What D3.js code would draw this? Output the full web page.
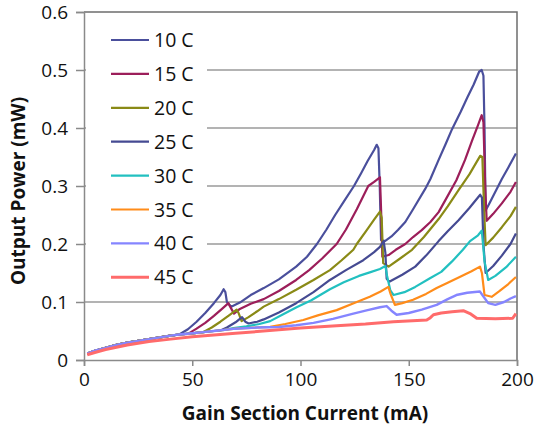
<!DOCTYPE html>
<html>
<head>
<meta charset="utf-8">
<script src="https://cdn.jsdelivr.net/npm/d3@7"></script>
<style>
  body { margin: 0; background: #fff; }
  svg { font-family: "Open Sans", sans-serif; }
</style>
</head>
<body>
<svg id="chart" width="536" height="432"></svg>
<script>
// Readings from the picture: [current mA, power mW]
const c10 = [[1.5,0.011],[5,0.016],[10,0.021],[15,0.026],[20,0.030],[25,0.033],[30,0.036],[35,0.039],[40,0.042],[44,0.044],
  [48,0.053],[52,0.066],[56,0.081],[60,0.098],[63,0.112],[64.5,0.122],[65.3,0.117],[66,0.100],[68,0.092],[72,0.099],
  [77,0.112],[83,0.124],[90,0.139],[98,0.161],[103,0.178],[107.6,0.200],[112,0.225],[116,0.250],[120,0.273],[124.7,0.300],
  [128,0.322],[131,0.343],[134,0.362],[135.2,0.371],[136,0.365],[136.6,0.300],[137.2,0.207],[139,0.205],[142,0.213],
  [145,0.224],[148.4,0.238],[152,0.260],[157.6,0.295],[160,0.312],[163.8,0.345],[167,0.372],[170,0.398],[174,0.428],
  [177,0.452],[180,0.475],[182.5,0.497],[183.7,0.500],[184.5,0.490],[185,0.400],[185.5,0.258],[187,0.268],[190,0.290],
  [193,0.312],[196,0.332],[199.5,0.356]];
const c15 = [[1.5,0.011],[5,0.016],[10,0.021],[15,0.026],[20,0.030],[25,0.033],[30,0.036],[35,0.039],[40,0.042],[44,0.044],
  [48,0.045],[52,0.054],[56,0.064],[60,0.076],[64,0.089],[66.7,0.098],[67.5,0.092],[69.3,0.080],[72,0.088],[77,0.097],
  [83,0.105],[90,0.119],[98,0.138],[104,0.155],[110,0.175],[116.7,0.200],[121,0.225],[126,0.260],[131.3,0.300],
  [134,0.307],[136.7,0.315],[137.3,0.250],[137.8,0.178],[140.7,0.181],[144,0.190],[148.4,0.200],[152,0.212],[156,0.224],
  [160,0.238],[163.8,0.255],[168,0.283],[172,0.310],[176,0.345],[179.2,0.378],[182,0.405],[183.7,0.422],[184.5,0.410],
  [185.3,0.300],[186,0.240],[189,0.252],[193,0.270],[197,0.290],[199.5,0.307]];
const c20 = [[1.5,0.011],[5,0.016],[10,0.021],[15,0.026],[20,0.030],[25,0.033],[30,0.036],[35,0.039],[40,0.042],[44,0.044],
  [50,0.046],[55,0.048],[59,0.056],[63,0.066],[67,0.077],[70.5,0.087],[71.5,0.080],[72.8,0.067],[76,0.074],[80,0.084],
  [83,0.092],[90,0.105],[98,0.121],[106,0.138],[113.6,0.155],[119,0.172],[124.4,0.190],[126,0.200],[130.6,0.224],
  [134,0.242],[136.7,0.256],[137.5,0.245],[138.2,0.167],[140.7,0.161],[146,0.175],[151.5,0.190],[157,0.212],
  [163.8,0.243],[168,0.265],[173,0.293],[178,0.320],[183,0.352],[184,0.350],[184.8,0.260],[185.5,0.198],[189,0.211],
  [193,0.229],[197,0.248],[199.5,0.264]];
const c25 = [[1.5,0.011],[5,0.016],[10,0.021],[15,0.026],[20,0.030],[25,0.033],[30,0.036],[35,0.039],[40,0.042],[44,0.044],
  [50,0.046],[55,0.048],[60,0.050],[63,0.051],[66,0.056],[70,0.065],[73,0.074],[74.5,0.066],[76,0.063],[80,0.066],
  [83,0.070],[90,0.082],[98,0.098],[106,0.117],[113.6,0.138],[121,0.155],[129,0.172],[134,0.186],[136.7,0.195],
  [138.4,0.205],[139.2,0.185],[139.8,0.140],[141,0.135],[147,0.147],[153,0.161],[158,0.180],[163.8,0.205],[168,0.222],
  [173,0.241],[178,0.262],[183,0.285],[183.8,0.280],[184.5,0.200],[185.5,0.150],[189,0.162],[193,0.180],[197,0.200],
  [199.5,0.218]];
const c30 = [[1.5,0.011],[5,0.016],[10,0.021],[15,0.026],[20,0.030],[25,0.033],[30,0.036],[35,0.039],[40,0.042],[44,0.044],
  [50,0.046],[55,0.048],[60,0.050],[65,0.052],[69,0.055],[75,0.058],[81,0.062],[86,0.067],[92,0.079],[98.2,0.091],
  [105,0.103],[113.6,0.122],[120,0.134],[127,0.145],[132,0.151],[136.7,0.157],[139.2,0.162],[140,0.145],[141.5,0.120],
  [143,0.112],[148,0.117],[153,0.126],[159.8,0.141],[165,0.152],[170,0.170],[175,0.190],[178.3,0.205],[182,0.215],
  [183.7,0.223],[184.3,0.200],[185,0.170],[186.7,0.138],[190,0.145],[195,0.160],[199.5,0.178]];
const c35 = [[1.5,0.011],[5,0.016],[10,0.021],[15,0.026],[20,0.030],[25,0.033],[30,0.036],[35,0.039],[40,0.042],[44,0.044],
  [50,0.046],[55,0.048],[60,0.050],[65,0.052],[70,0.054],[80,0.056],[86,0.057],[93,0.062],[101.3,0.069],[108,0.077],
  [116.7,0.086],[124,0.097],[132,0.109],[137,0.118],[140.6,0.126],[141.5,0.115],[143.6,0.095],[147,0.098],[152,0.104],
  [158,0.114],[162.9,0.124],[168,0.133],[174,0.144],[179,0.153],[182.9,0.161],[183.8,0.150],[185,0.112],[188.3,0.109],
  [192,0.119],[196,0.131],[199.5,0.143]];
const c40 = [[1.5,0.011],[5,0.016],[10,0.021],[15,0.026],[20,0.030],[25,0.033],[30,0.036],[35,0.039],[40,0.042],[44,0.044],
  [50,0.046],[55,0.048],[60,0.050],[65,0.052],[70,0.054],[80,0.056],[90,0.057],[98,0.060],[106,0.064],[115,0.071],
  [124.4,0.080],[131,0.086],[136.7,0.091],[139.8,0.093],[142,0.085],[144.4,0.078],[150,0.081],[156,0.087],[162.9,0.095],
  [168,0.105],[172,0.112],[177,0.116],[182.9,0.118],[184,0.112],[186.7,0.098],[190,0.095],[194,0.100],[197,0.106],
  [199.5,0.110]];
const c45 = [[1.5,0.009],[5,0.013],[10,0.018],[15,0.022],[20,0.026],[30,0.032],[40,0.036],[50,0.040],[60,0.043],[70,0.046],
  [80,0.049],[90,0.052],[100,0.055],[116.7,0.059],[130,0.062],[142.9,0.066],[158.3,0.069],[160,0.073],[161.4,0.078],
  [165,0.081],[170,0.083],[175.2,0.085],[178.3,0.080],[181.4,0.072],[190,0.071],[198,0.072],[199.5,0.080]];

const labels = ["10 C", "15 C", "20 C", "25 C", "30 C", "35 C", "40 C", "45 C"];
const series = [c10, c15, c20, c25, c30, c35, c40, c45];
const colors = ["#4a4f9c", "#9c1e5a", "#8a8a16", "#454a92", "#22c0c0", "#ff8c1a", "#8585ff", "#ff6b6b"];
const widths = [2.2, 2.2, 2.2, 2.2, 2.2, 2.2, 2.4, 3];
const yTicks = [0, 0.1, 0.2, 0.3, 0.4, 0.5, 0.6];
const xTicks = [0, 50, 100, 150, 200];

var svg = d3.select("#chart");

var x = d3.scaleLinear().domain([0, 200]).range([84, 517]);
var y = d3.scaleLinear().domain([0, 0.6]).range([360, 12]);

// Gridlines
svg.append("g")
  .selectAll("line")
  .data(yTicks.slice(1, 6))
  .join("line")
  .attr("x1", x(0)).attr("x2", x(200))
  .attr("y1", d => y(d)).attr("y2", d => y(d))
  .attr("stroke", "#9a9a9a")
  .attr("stroke-width", 1.5);

// Frame (top and right)
svg.append("path")
  .attr("d", `M${x(0)},${y(0.6)}H${x(200)}V${y(0)}`)
  .attr("fill", "none")
  .attr("stroke", "#6e6e6e")
  .attr("stroke-width", 1.5);

// Axes
var yAxis = svg.append("g")
  .attr("transform", `translate(${x(0)},0)`)
  .call(d3.axisLeft(y).tickValues(yTicks).tickSize(8).tickPadding(8)
    .tickFormat(d => d === 0 ? "0" : d3.format(".1f")(d)));

var xAxis = svg.append("g")
  .attr("transform", `translate(0,${y(0)})`)
  .call(d3.axisBottom(x).tickValues(xTicks).tickSize(6).tickPadding(7));

[yAxis, xAxis].forEach(function (g) {
  g.select(".domain").attr("stroke", "#8a8a8a").attr("stroke-width", 1.5);
  g.selectAll(".tick line").attr("stroke", "#8a8a8a").attr("stroke-width", 1.5);
  g.selectAll(".tick text")
    .attr("fill", "#111")
    .style("font-size", "19px")
    .style("font-family", "'Open Sans', sans-serif");
});

// Legend background hides the gridlines
svg.append("rect")
  .attr("x", 86).attr("y", 18)
  .attr("width", 121).attr("height", 278)
  .attr("fill", "#fff");

// Series lines
var line = d3.line()
  .x(d => x(d[0]))
  .y(d => y(d[1]));

svg.append("g")
  .selectAll("path")
  .data(series)
  .join("path")
  .attr("d", line)
  .attr("fill", "none")
  .attr("stroke", (d, i) => colors[i])
  .attr("stroke-width", (d, i) => widths[i])
  .attr("stroke-linejoin", "round");

// Legend
var legend = svg.append("g")
  .selectAll("g")
  .data(labels)
  .join("g")
  .attr("transform", (d, i) => `translate(111,${40 + i * 33.9})`);

legend.append("line")
  .attr("x1", 0).attr("x2", 38)
  .attr("stroke", (d, i) => colors[i])
  .attr("stroke-width", (d, i) => widths[i]);

legend.append("text")
  .attr("x", 43)
  .attr("dy", "0.36em")
  .attr("fill", "#111")
  .style("font-size", "19.5px")
  .text(d => d);

// Axis titles
svg.append("text")
  .attr("x", 305)
  .attr("y", 420)
  .attr("text-anchor", "middle")
  .attr("fill", "#111")
  .style("font-size", "19px")
  .style("font-weight", "bold")
  .text("Gain Section Current (mA)");

svg.append("text")
  .attr("transform", "rotate(-90)")
  .attr("x", -191)
  .attr("y", 25)
  .attr("text-anchor", "middle")
  .attr("fill", "#111")
  .style("font-size", "19px")
  .style("font-weight", "bold")
  .text("Output Power (mW)");
</script>
</body>
</html>
